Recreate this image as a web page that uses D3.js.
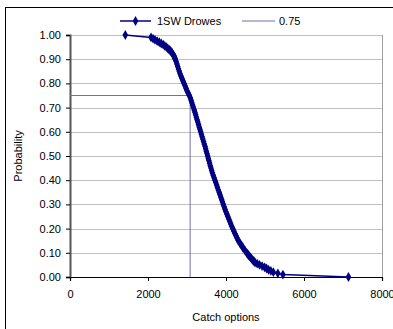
<!DOCTYPE html>
<html><head><meta charset="utf-8">
<script src="https://cdn.jsdelivr.net/npm/d3@7"></script>
<style>body{margin:0;background:#fff}svg{display:block;font-family:"Liberation Sans",Arial,sans-serif}</style>
</head><body><svg id="c" width="393" height="329"></svg>
<script>
const seriesName = "1SW Drowes";
const refName = "0.75";
const catchValues = [1418,2077,2130,2180,2235,2290,2340,2390,2430,2470,2505,2540,2570,2600,2620,2640,2658,2675,2688,2700,2722,2742,2762,2782,2802,2822,2848,2872,2898,2924,2950,2975,3000,3030,3060,3088,3105,3125,3145,3165,3185,3205,3222,3240,3258,3277,3295,3314,3333,3350,3369,3387,3405,3424,3443,3462,3478,3495,3512,3530,3546,3563,3580,3597,3614,3632,3652,3673,3695,3716,3738,3760,3781,3803,3825,3846,3867,3888,3910,3931,3952,3974,3998,4022,4047,4072,4096,4120,4145,4172,4200,4228,4257,4286,4316,4357,4398,4440,4485,4530,4555,4580,4606,4632,4660,4688,4716,4744,4800,4860,4925,4990,5040,5090,5150,5214,5330,5460,7140];
const probValues = [1.00,0.99,0.985,0.98,0.975,0.97,0.965,0.96,0.955,0.95,0.945,0.94,0.935,0.93,0.925,0.92,0.915,0.91,0.905,0.90,0.89,0.88,0.87,0.86,0.85,0.84,0.83,0.82,0.81,0.80,0.79,0.78,0.77,0.76,0.75,0.74,0.73,0.72,0.71,0.70,0.69,0.68,0.67,0.66,0.65,0.64,0.63,0.62,0.61,0.60,0.59,0.58,0.57,0.56,0.55,0.54,0.53,0.52,0.51,0.50,0.49,0.48,0.47,0.46,0.45,0.44,0.43,0.42,0.41,0.40,0.39,0.38,0.37,0.36,0.35,0.34,0.33,0.32,0.31,0.30,0.29,0.28,0.27,0.26,0.25,0.24,0.23,0.22,0.21,0.20,0.19,0.18,0.17,0.16,0.15,0.14,0.13,0.12,0.11,0.10,0.095,0.09,0.085,0.08,0.075,0.07,0.065,0.06,0.055,0.05,0.045,0.04,0.035,0.03,0.025,0.02,0.015,0.01,0.00];
const refX = [0, 3080, 3080];
const refY = [0.75, 0.75, 0];
const xTicks = [0,2000,4000,6000,8000];
const yTicks = [0,0.1,0.2,0.3,0.4,0.5,0.6,0.7,0.8,0.9,1.0];

const svg = d3.select("#c");
const L=70, R=382, T=35, B=277;
const x = d3.scaleLinear().domain([0,8000]).range([L,R]);
const y = d3.scaleLinear().domain([0,1]).range([B,T]);
const navy = "#000080", refCol = "#7070aa";

svg.append("rect").attr("x",5.5).attr("y",7.5).attr("width",420).attr("height",420).attr("fill","none").attr("stroke","#000");

// gridlines
svg.append("g").selectAll("line").data(yTicks.slice(1)).join("line")
  .attr("x1",L).attr("x2",R).attr("y1",d=>Math.round(y(d))+0.5).attr("y2",d=>Math.round(y(d))+0.5)
  .attr("stroke","#c0c0c0");
svg.append("line").attr("x1",R+0.5).attr("x2",R+0.5).attr("y1",T).attr("y2",B).attr("stroke","#a0a0a0");

// axes
const yAxis = svg.append("g").attr("transform",`translate(${L},0)`)
  .call(d3.axisLeft(y).tickValues(yTicks).tickFormat(d3.format(".2f")).tickSize(4).tickPadding(5));
const xAxis = svg.append("g").attr("transform",`translate(0,${B})`)
  .call(d3.axisBottom(x).tickValues(xTicks).tickFormat(d3.format("d")).tickSize(4).tickPadding(9));
[yAxis,xAxis].forEach(g=>{
  g.selectAll("text").attr("font-size",11).attr("font-family","Liberation Sans, Arial, sans-serif").attr("fill","#000");
  g.selectAll("line").attr("stroke","#000");
});
yAxis.select(".domain").attr("stroke","#555").attr("stroke-width",2);
xAxis.select(".domain").attr("stroke","#000").attr("stroke-width",1.2);

// reference line
svg.append("path").datum(refX.map((v,i)=>[v,refY[i]]))
  .attr("d",d3.line().x(d=>x(d[0])).y(d=>y(d[1])))
  .attr("fill","none").attr("stroke",refCol).attr("stroke-width",1);

// series
const pts = catchValues.map((v,i)=>[v,probValues[i]]);
svg.append("path").datum(pts).attr("d",d3.line().x(d=>x(d[0])).y(d=>y(d[1])))
  .attr("fill","none").attr("stroke",navy).attr("stroke-width",1.5);
const diamond = d3.symbol().type(d3.symbolDiamond).size(28);
svg.append("g").selectAll("path").data(pts).join("path")
  .attr("transform",d=>`translate(${x(d[0])},${y(d[1])})`).attr("d",diamond).attr("fill",navy);

// axis titles
svg.append("text").attr("x",226).attr("y",321).attr("text-anchor","middle").attr("font-size",11).text("Catch options");
svg.append("text").attr("transform","translate(22,156) rotate(-90)").attr("text-anchor","middle").attr("font-size",11).text("Probability");

// legend
const lg = svg.append("g");
lg.append("line").attr("x1",120).attr("x2",151).attr("y1",21).attr("y2",21).attr("stroke",navy).attr("stroke-width",1.5);
lg.append("path").attr("transform","translate(135.5,21)").attr("d",diamond).attr("fill",navy);
lg.append("text").attr("x",157).attr("y",25).attr("font-size",11).text(seriesName);
lg.append("line").attr("x1",242).attr("x2",275).attr("y1",21).attr("y2",21).attr("stroke",refCol).attr("stroke-width",1);
lg.append("text").attr("x",279).attr("y",25).attr("font-size",11).text(refName);
</script></body></html>
